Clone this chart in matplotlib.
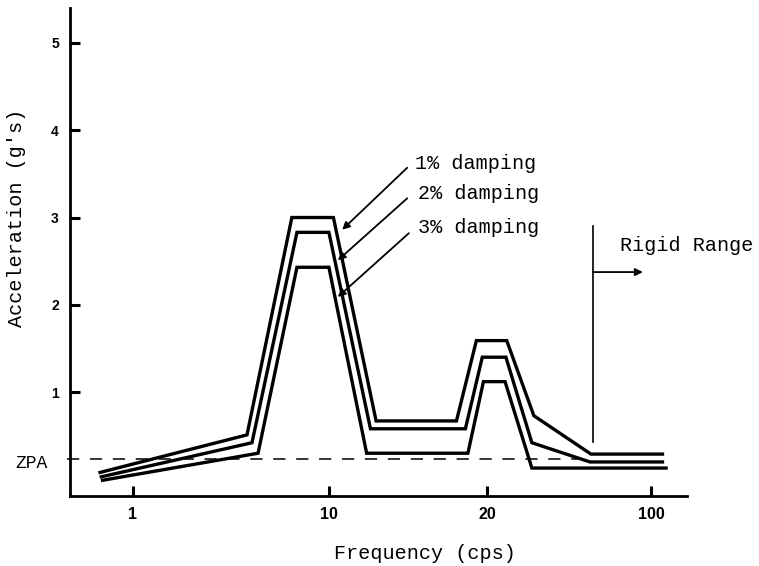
import numpy as np
import matplotlib
matplotlib.use("Agg")
import matplotlib.pyplot as plt
from matplotlib.ticker import NullLocator
from matplotlib.transforms import blended_transform_factory

# ---- data ----
tick_freqs = [1, 10, 20, 100]
tick_labels = ["1", "10", "20", "100"]
tick_pos = [0.0, 1.0, 1.806, 2.643]   # schematic spacing of the frequency axis

freq_1 = [0.68, 3.82, 6.47, 10.2, 12.3, 17.5, 19.1, 24.3, 31.7, 55.5, 112]
acc_1 = [0.08, 0.51, 3.00, 3.00, 0.67, 0.67, 1.59, 1.59, 0.73, 0.29, 0.29]
freq_2 = [0.69, 4.05, 6.87, 10.0, 12.0, 18.2, 19.6, 24.1, 31.1, 55.0, 112]
acc_2 = [0.03, 0.42, 2.83, 2.83, 0.58, 0.58, 1.40, 1.40, 0.42, 0.20, 0.20]
freq_3 = [0.70, 4.35, 6.87, 10.0, 11.8, 18.4, 19.7, 23.9, 31.1, 116]
acc_3 = [-0.01, 0.30, 2.43, 2.43, 0.30, 0.30, 1.12, 1.12, 0.13, 0.13]
zpa = 0.23
zpa_freq_range = [0.46, 52.3]
rigid_freq = 56.6
y_ticks = [1, 2, 3, 4, 5]

damping_labels = ["1% damping", "2% damping", "3% damping"]
arrow_tips = [(10.6, 2.86), (10.4, 2.51), (10.4, 2.09)]
arrow_tails = [(14.1, 3.57), (14.1, 3.22), (14.2, 2.82)]
label_pos = [(14.6, 3.62), (14.8, 3.27), (14.8, 2.89)]


def _ext_interp(x, xp, fp):
    x = np.asarray(x, dtype=float)
    xp = np.asarray(xp, dtype=float)
    fp = np.asarray(fp, dtype=float)
    y = np.interp(x, xp, fp)
    y = np.where(x < xp[0], fp[0] + (x - xp[0]) * (fp[1] - fp[0]) / (xp[1] - xp[0]), y)
    y = np.where(x > xp[-1], fp[-1] + (x - xp[-1]) * (fp[-1] - fp[-2]) / (xp[-1] - xp[-2]), y)
    return y


def fwd(f):
    f = np.asarray(f, dtype=float)
    return _ext_interp(np.log10(np.clip(f, 1e-9, None)), np.log10(tick_freqs), tick_pos)


def inv(p):
    return 10 ** _ext_interp(p, tick_pos, np.log10(tick_freqs))


mono = "Liberation Mono"
sans = "Liberation Sans"

fig = plt.figure(figsize=(7.59, 5.66), dpi=100)
ax = fig.add_axes([70 / 759, 1 - 496 / 566, 617 / 759, 488 / 566])
ax.set_xscale("function", functions=(fwd, inv))
ax.set_xlim(float(inv(-0.321)), float(inv(2.827)))
ax.set_ylim(-0.19, 5.40)

for fr, ac in [(freq_1, acc_1), (freq_2, acc_2), (freq_3, acc_3)]:
    ax.plot(fr, ac, color="black", lw=2.4, solid_joinstyle="miter")

# ZPA dashed line
ax.plot(zpa_freq_range, [zpa, zpa], color="black", lw=1.1, dashes=(8, 7), clip_on=False)
trans = blended_transform_factory(ax.transAxes, ax.transData)
ax.text(-0.036, zpa - 0.045, "ZPA", transform=trans, ha="right", va="center",
        family=mono, fontsize=13)

# damping annotations
for lab, tip, tail, pos in zip(damping_labels, arrow_tips, arrow_tails, label_pos):
    ax.annotate("", xy=tip, xytext=tail,
                arrowprops=dict(arrowstyle="-|>", color="black", lw=1.3,
                                mutation_scale=11, shrinkA=0, shrinkB=0))
    ax.text(pos[0], pos[1], lab, ha="left", va="center", family=mono, fontsize=14.5)

# Rigid range marker
ax.plot([rigid_freq, rigid_freq], [0.43, 2.90], color="black", lw=1.2)
ax.annotate("", xy=(92.4, 2.375), xytext=(rigid_freq, 2.375),
            arrowprops=dict(arrowstyle="-|>", color="black", lw=1.3,
                            mutation_scale=11, shrinkA=0, shrinkB=0))
ax.text(73.8, 2.68, "Rigid Range", ha="left", va="center", family=mono, fontsize=14.5)

# axes styling
for s in ["top", "right"]:
    ax.spines[s].set_visible(False)
for s in ["left", "bottom"]:
    ax.spines[s].set_linewidth(2.0)

ax.set_xticks(tick_freqs)
ax.set_xticklabels(tick_labels)
ax.xaxis.set_minor_locator(NullLocator())
ax.set_yticks(y_ticks)
ax.set_yticklabels([str(v) for v in y_ticks])
ax.yaxis.set_minor_locator(NullLocator())
ax.tick_params(axis="both", direction="in", length=7, width=2.2, color="black")
ax.tick_params(axis="x", pad=8, labelsize=11.5)
ax.tick_params(axis="y", pad=8, labelsize=10)
for lab in ax.get_xticklabels() + ax.get_yticklabels():
    lab.set_fontweight("bold")
    lab.set_family(sans)

ax.set_xlabel("Frequency (cps)", family=mono, fontsize=14.5, va="center")
ax.xaxis.set_label_coords(0.575, -0.117)
ax.set_ylabel("Acceleration (g's)", family=mono, fontsize=14.5, va="center")
ax.yaxis.set_label_coords(-0.0875, 0.57)

fig.savefig("out.png", dpi=100)
